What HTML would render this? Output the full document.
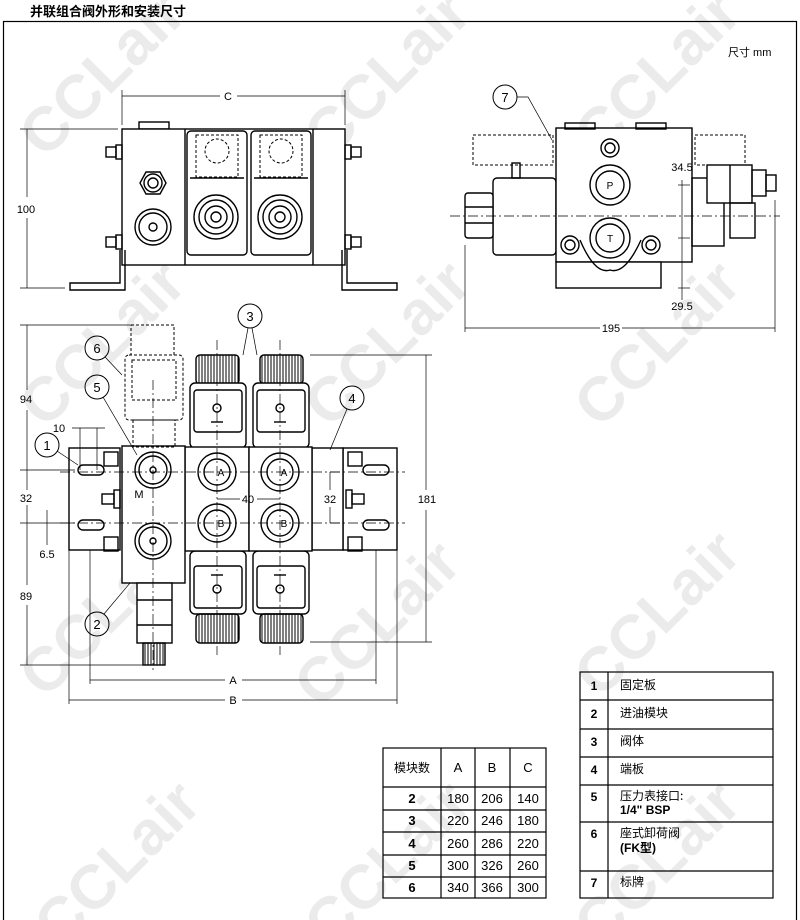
<!DOCTYPE html>
<html><head><meta charset="utf-8"><style>
html,body{margin:0;padding:0;background:#fff;}
svg{display:block;font-family:"Liberation Sans","Noto Sans CJK SC",sans-serif;}
</style></head><body>
<svg width="800" height="920" viewBox="0 0 800 920" xmlns="http://www.w3.org/2000/svg">
<defs>
<pattern id="knurl" width="3" height="10" patternUnits="userSpaceOnUse"><line x1="1" y1="0" x2="1" y2="10" stroke="#000" stroke-width="1"/></pattern>
</defs>
<rect width="800" height="920" fill="#fff"/>
<g fill="#ebebeb" font-size="62" font-weight="bold" font-family="Liberation Sans,sans-serif">
<text transform="translate(45,160) rotate(-45)">CCLair</text>
<text transform="translate(330,160) rotate(-45)">CCLair</text>
<text transform="translate(600,160) rotate(-45)">CCLair</text>
<text transform="translate(45,430) rotate(-45)">CCLair</text>
<text transform="translate(330,430) rotate(-45)">CCLair</text>
<text transform="translate(600,430) rotate(-45)">CCLair</text>
<text transform="translate(45,700) rotate(-45)">CCLair</text>
<text transform="translate(320,710) rotate(-45)">CCLair</text>
<text transform="translate(600,700) rotate(-45)">CCLair</text>
<text transform="translate(60,950) rotate(-45)">CCLair</text>
<text transform="translate(330,950) rotate(-45)">CCLair</text>
<text transform="translate(600,950) rotate(-45)">CCLair</text>
</g>
<text x="30" y="16" font-size="13" font-weight="bold" font-family="Noto Sans CJK SC,sans-serif">并联组合阀外形和安装尺寸</text>
<rect x="3.5" y="21.5" width="793" height="900" fill="none" stroke="#000" stroke-width="1.2"/>
<text x="728" y="56" font-size="11" font-family="Liberation Sans,Noto Sans CJK SC,sans-serif">尺寸 mm</text>

<g stroke="#000" fill="none" stroke-width="1.4">
<rect x="139" y="122" width="30" height="7" fill="#fff"/>
<rect x="122" y="129" width="223" height="136" fill="#fff"/>
<line x1="185" y1="129" x2="185" y2="265"/>
<line x1="313" y1="129" x2="313" y2="265"/>
<rect x="187" y="131" width="60" height="124" rx="4"/>
<rect x="251" y="131" width="60" height="124" rx="4"/>
<polygon points="140,183 146,172 160,172 166,183 160,194 146,194"/>
<circle cx="153" cy="183" r="9"/><circle cx="153" cy="183" r="5"/>
<circle cx="153" cy="227" r="18"/><circle cx="153" cy="227" r="14"/><circle cx="153" cy="227" r="4"/>
<circle cx="216" cy="217" r="22"/><circle cx="216" cy="217" r="17"/><circle cx="216" cy="217" r="11"/><circle cx="216" cy="217" r="5"/>
<circle cx="280" cy="217" r="22"/><circle cx="280" cy="217" r="17"/><circle cx="280" cy="217" r="11"/><circle cx="280" cy="217" r="5"/>
<line x1="190" y1="178" x2="244" y2="178"/><line x1="254" y1="178" x2="308" y2="178"/>
<g stroke-dasharray="3,2" stroke-width="1">
<rect x="196" y="135" width="42" height="42"/><rect x="260" y="135" width="42" height="42"/>
<circle cx="217" cy="151" r="12"/><circle cx="281" cy="151" r="12"/>
</g>
<path d="M120 250 L120 283 L70 283 L70 290 L125 290 L125 250"/>
<path d="M347 250 L347 283 L397 283 L397 290 L342 290 L342 250"/>
<rect x="106" y="147" width="10" height="10"/><rect x="116" y="145" width="6" height="14"/>
<rect x="106" y="237" width="10" height="10"/><rect x="116" y="235" width="6" height="14"/>
<rect x="351" y="147" width="10" height="10"/><rect x="345" y="145" width="6" height="14"/>
<rect x="351" y="237" width="10" height="10"/><rect x="345" y="235" width="6" height="14"/>
</g>
<g stroke="#000" stroke-width="0.7" fill="none">
<line x1="122" y1="90" x2="122" y2="125"/><line x1="345" y1="90" x2="345" y2="125"/>
<line x1="122" y1="96" x2="220" y2="96"/><line x1="237" y1="96" x2="345" y2="96"/>
<line x1="20" y1="129" x2="118" y2="129"/><line x1="20" y1="288" x2="65" y2="288"/>
<line x1="27" y1="129" x2="27" y2="197"/><line x1="27" y1="218" x2="27" y2="288"/>
</g>
<text x="228" y="100" font-size="11" text-anchor="middle">C</text>
<text x="26" y="213" font-size="11" text-anchor="middle">100</text>

<g stroke="#000" fill="none" stroke-width="1.4">
<rect x="493" y="178" width="63" height="77" rx="4" fill="#fff"/>
<rect x="465" y="193" width="28" height="45" rx="3" fill="#fff"/>
<line x1="465" y1="207" x2="493" y2="207"/><line x1="465" y1="223" x2="493" y2="223"/>
<rect x="512" y="163" width="8" height="15"/>
<rect x="556" y="128" width="136" height="134" fill="#fff"/>
<rect x="556" y="262" width="105" height="26" fill="#fff"/>
<rect x="565" y="123" width="30" height="6"/><rect x="636" y="123" width="30" height="6"/>
<rect x="692" y="178" width="32" height="68"/>
<rect x="707" y="165" width="45" height="38" fill="#fff"/>
<line x1="730" y1="165" x2="730" y2="203"/>
<rect x="752" y="170" width="14" height="26"/>
<rect x="766" y="175" width="10" height="16"/>
<rect x="730" y="203" width="25" height="35"/>
<circle cx="610" cy="185" r="20"/><circle cx="610" cy="185" r="14"/>
<circle cx="610" cy="238" r="20"/><circle cx="610" cy="238" r="14"/>
<circle cx="610" cy="148" r="9"/><circle cx="610" cy="148" r="5"/>
<circle cx="570" cy="245" r="9"/><circle cx="570" cy="245" r="5"/>
<circle cx="651" cy="245" r="9"/><circle cx="651" cy="245" r="5"/>
<path d="M580 240 Q595 275 610 270 Q625 275 641 240"/>
<g stroke-dasharray="3,2" stroke-width="1">
<rect x="473" y="135" width="80" height="30"/><rect x="695" y="135" width="50" height="30"/>
</g>
<circle cx="505" cy="97" r="12" stroke-width="1"/>
</g>
<g stroke="#000" stroke-width="0.7" fill="none">
<path d="M517 97 L528 97 L552 140"/>
<line x1="465" y1="245" x2="465" y2="332"/><line x1="775" y1="200" x2="775" y2="332"/>
<line x1="465" y1="328" x2="600" y2="328"/><line x1="622" y1="328" x2="775" y2="328"/>
<line x1="678" y1="185" x2="690" y2="185"/><line x1="678" y1="238" x2="690" y2="238"/>
<line x1="678" y1="288" x2="690" y2="288"/>
<line x1="682" y1="180" x2="682" y2="300"/>
<line x1="450" y1="216" x2="780" y2="216" stroke-dasharray="10,3,2,3"/>
</g>
<text x="505" y="102" font-size="13" text-anchor="middle">7</text>
<text x="611" y="332" font-size="11" text-anchor="middle">195</text>
<text x="682" y="171" font-size="11" text-anchor="middle">34.5</text>
<text x="682" y="310" font-size="11" text-anchor="middle">29.5</text>
<text x="610" y="189" font-size="10" text-anchor="middle">P</text>
<text x="610" y="242" font-size="10" text-anchor="middle">T</text>

<g stroke="#000" fill="none" stroke-width="1.4">
<rect x="196" y="355" width="43" height="29" rx="4" fill="url(#knurl)"/>
<rect x="260" y="355" width="43" height="29" rx="4" fill="url(#knurl)"/>
<rect x="190" y="383" width="56" height="65" rx="5" fill="#fff"/>
<rect x="253" y="383" width="56" height="65" rx="5" fill="#fff"/>
<rect x="194" y="390" width="48" height="42" rx="3"/>
<rect x="257" y="390" width="48" height="42" rx="3"/>
<rect x="190" y="551" width="56" height="63" rx="5" fill="#fff"/>
<rect x="253" y="551" width="56" height="63" rx="5" fill="#fff"/>
<rect x="194" y="566" width="48" height="42" rx="3"/>
<rect x="257" y="566" width="48" height="42" rx="3"/>
<rect x="196" y="614" width="43" height="29" rx="4" fill="url(#knurl)"/>
<rect x="260" y="614" width="43" height="29" rx="4" fill="url(#knurl)"/>
<rect x="69" y="448" width="51" height="102" fill="#fff"/>
<rect x="343" y="448" width="54" height="102" fill="#fff"/>
<rect x="312" y="448" width="31" height="102" fill="#fff"/>
<rect x="185" y="447" width="64" height="104" fill="#fff"/>
<rect x="249" y="447" width="63" height="104" fill="#fff"/>
<rect x="122" y="446" width="63" height="137" fill="#fff"/>
<rect x="137" y="583" width="35" height="60" fill="#fff"/>
<line x1="137" y1="600" x2="172" y2="600"/><line x1="137" y1="625" x2="172" y2="625"/>
<rect x="143" y="643" width="22" height="22" fill="url(#knurl)"/>
<circle cx="217" cy="472" r="19"/><circle cx="217" cy="472" r="13"/>
<circle cx="280" cy="472" r="19"/><circle cx="280" cy="472" r="13"/>
<circle cx="217" cy="523" r="19"/><circle cx="217" cy="523" r="13"/>
<circle cx="280" cy="523" r="19"/><circle cx="280" cy="523" r="13"/>
<circle cx="153" cy="470" r="18"/><circle cx="153" cy="470" r="14"/><circle cx="153" cy="470" r="3"/>
<circle cx="153" cy="541" r="18"/><circle cx="153" cy="541" r="14"/><circle cx="153" cy="541" r="3"/>
<rect x="78" y="465" width="26" height="10" rx="5"/><rect x="78" y="520" width="26" height="10" rx="5"/>
<rect x="363" y="465" width="26" height="10" rx="5"/><rect x="363" y="520" width="26" height="10" rx="5"/>
<rect x="104" y="452" width="14" height="14"/><rect x="104" y="537" width="14" height="14"/>
<rect x="102" y="494" width="12" height="10"/><rect x="114" y="490" width="6" height="18"/>
<rect x="348" y="452" width="14" height="14"/><rect x="348" y="537" width="14" height="14"/>
<rect x="352" y="494" width="12" height="10"/><rect x="346" y="490" width="6" height="18"/>
<circle cx="217" cy="408" r="4"/><circle cx="280" cy="408" r="4"/>
<circle cx="217" cy="589" r="4"/><circle cx="280" cy="589" r="4"/>
<line x1="211" y1="422" x2="223" y2="422"/><line x1="274" y1="422" x2="286" y2="422"/>
<line x1="211" y1="575" x2="223" y2="575"/><line x1="274" y1="575" x2="286" y2="575"/>
<g stroke-dasharray="3,2" stroke-width="1">
<rect x="131" y="325" width="43" height="30"/>
<rect x="125" y="355" width="58" height="65" rx="4"/>
<rect x="132" y="360" width="44" height="40"/>
<rect x="133" y="420" width="42" height="27"/>
</g>
<g stroke-width="1">
<circle cx="250" cy="316" r="12"/><circle cx="97" cy="348" r="12"/><circle cx="97" cy="387" r="12"/>
<circle cx="47" cy="445" r="12"/><circle cx="352" cy="398" r="12"/><circle cx="97" cy="624" r="12"/>
</g>
</g>
<g stroke="#000" stroke-width="0.7" fill="none">
<line x1="248" y1="328" x2="243" y2="355"/><line x1="252" y1="328" x2="257" y2="355"/>
<line x1="105" y1="357" x2="122" y2="375"/><line x1="103" y1="397" x2="137" y2="455"/>
<line x1="57" y1="451" x2="78" y2="465"/><line x1="347" y1="409" x2="330" y2="450"/>
<line x1="104" y1="614" x2="130" y2="583"/>
<line x1="20" y1="325" x2="130" y2="325"/><line x1="20" y1="470" x2="75" y2="470"/>
<line x1="20" y1="523" x2="75" y2="523"/><line x1="20" y1="665" x2="145" y2="665"/>
<line x1="27" y1="325" x2="27" y2="390"/><line x1="27" y1="410" x2="27" y2="490"/>
<line x1="27" y1="505" x2="27" y2="585"/><line x1="27" y1="605" x2="27" y2="665"/>
<line x1="47" y1="510" x2="47" y2="545"/>
<line x1="310" y1="355" x2="432" y2="355"/><line x1="310" y1="642" x2="432" y2="642"/>
<line x1="426" y1="355" x2="426" y2="490"/><line x1="426" y1="510" x2="426" y2="642"/>
<line x1="330" y1="472" x2="340" y2="472"/><line x1="330" y1="523" x2="340" y2="523"/>
<line x1="330" y1="472" x2="330" y2="490"/><line x1="330" y1="507" x2="330" y2="523"/>
<line x1="217" y1="499" x2="240" y2="499"/><line x1="257" y1="499" x2="280" y2="499"/>
<line x1="80" y1="428" x2="80" y2="470"/><line x1="97" y1="428" x2="97" y2="470"/>
<line x1="72" y1="428" x2="105" y2="428"/>
<line x1="90" y1="550" x2="90" y2="684"/><line x1="376" y1="550" x2="376" y2="684"/>
<line x1="69" y1="550" x2="69" y2="704"/><line x1="397" y1="550" x2="397" y2="704"/>
<line x1="90" y1="680" x2="225" y2="680"/><line x1="242" y1="680" x2="376" y2="680"/>
<line x1="69" y1="700" x2="225" y2="700"/><line x1="242" y1="700" x2="397" y2="700"/>
<g stroke-dasharray="10,3,2,3">
<line x1="217" y1="340" x2="217" y2="655"/><line x1="280" y1="340" x2="280" y2="655"/>
<line x1="153" y1="380" x2="153" y2="670"/>
<line x1="60" y1="472" x2="405" y2="472"/><line x1="60" y1="523" x2="405" y2="523"/>
</g>
</g>
<g font-size="11" text-anchor="middle">
<text x="250" y="321" font-size="13">3</text><text x="97" y="353" font-size="13">6</text>
<text x="97" y="392" font-size="13">5</text><text x="47" y="450" font-size="13">1</text>
<text x="352" y="403" font-size="13">4</text><text x="97" y="629" font-size="13">2</text>
<text x="26" y="403">94</text><text x="26" y="502">32</text><text x="26" y="600">89</text>
<text x="47" y="558">6.5</text><text x="59" y="432">10</text>
<text x="427" y="503">181</text><text x="330" y="503">32</text><text x="248" y="503">40</text>
<text x="139" y="498">M</text>
<text x="221" y="476" font-size="10">A</text><text x="284" y="476" font-size="10">A</text>
<text x="221" y="527" font-size="10">B</text><text x="284" y="527" font-size="10">B</text>
<text x="233" y="684">A</text><text x="233" y="704">B</text>
</g>

<g stroke="#000" stroke-width="1.2" fill="none">
<rect x="383" y="748" width="163" height="150"/>
<line x1="441" y1="748" x2="441" y2="898"/><line x1="475" y1="748" x2="475" y2="898"/><line x1="510" y1="748" x2="510" y2="898"/>
<line x1="383" y1="787" x2="546" y2="787"/><line x1="383" y1="810" x2="546" y2="810"/>
<line x1="383" y1="832" x2="546" y2="832"/><line x1="383" y1="855" x2="546" y2="855"/><line x1="383" y1="877" x2="546" y2="877"/>
</g>
<g font-size="13" text-anchor="middle">
<text x="412" y="772" font-size="12" font-family="Noto Sans CJK SC,sans-serif">模块数</text>
<text x="458" y="772">A</text><text x="492" y="772">B</text><text x="528" y="772">C</text>
<g font-weight="bold"><text x="412" y="803">2</text><text x="412" y="825">3</text><text x="412" y="848">4</text><text x="412" y="870">5</text><text x="412" y="892">6</text></g>
<text x="458" y="803">180</text><text x="492" y="803">206</text><text x="528" y="803">140</text>
<text x="458" y="825">220</text><text x="492" y="825">246</text><text x="528" y="825">180</text>
<text x="458" y="848">260</text><text x="492" y="848">286</text><text x="528" y="848">220</text>
<text x="458" y="870">300</text><text x="492" y="870">326</text><text x="528" y="870">260</text>
<text x="458" y="892">340</text><text x="492" y="892">366</text><text x="528" y="892">300</text>
</g>
<g stroke="#000" stroke-width="1.2" fill="none">
<rect x="580" y="672" width="193" height="226"/>
<line x1="608" y1="672" x2="608" y2="898"/>
<line x1="580" y1="700" x2="773" y2="700"/><line x1="580" y1="729" x2="773" y2="729"/>
<line x1="580" y1="757" x2="773" y2="757"/><line x1="580" y1="785" x2="773" y2="785"/>
<line x1="580" y1="822" x2="773" y2="822"/><line x1="580" y1="871" x2="773" y2="871"/>
</g>
<g font-size="12">
<g text-anchor="middle" font-weight="bold"><text x="594" y="690">1</text><text x="594" y="718">2</text><text x="594" y="746">3</text><text x="594" y="774">4</text><text x="594" y="801">5</text><text x="594" y="838">6</text><text x="594" y="887">7</text></g>
<g font-family="Noto Sans CJK SC,sans-serif" font-size="12">
<text x="620" y="689">固定板</text><text x="620" y="717">进油模块</text><text x="620" y="745">阀体</text><text x="620" y="773">端板</text>
<text x="620" y="800">压力表接口:</text><text x="620" y="837">座式卸荷阀</text><text x="620" y="886">标牌</text>
</g>
<text x="620" y="814" font-weight="bold">1/4" BSP</text>
<text x="620" y="852" font-weight="bold" font-family="Liberation Sans,Noto Sans CJK SC,sans-serif">(FK型)</text>
</g>
</svg>
</body></html>
